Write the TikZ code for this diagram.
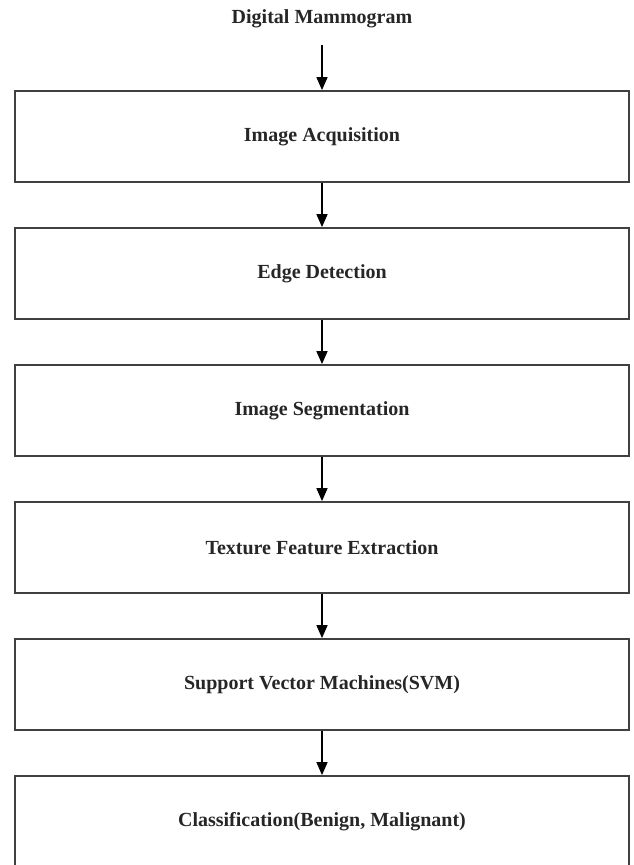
\documentclass[tikz,border=0pt]{standalone}
\usepackage{fontspec}
\setmainfont{Liberation Serif}
\usetikzlibrary{positioning,arrows.meta}
\tikzstyle{stage} = [draw=black!75, line width=1.8pt, rectangle, minimum width=614pt, minimum height=91pt, text centered, inner sep=0pt, text=black!85, font=\fontsize{20}{24}\bfseries\selectfont]
\tikzstyle{source} = [rectangle, minimum height=52pt, inner sep=0pt, text=black!85, font=\fontsize{20}{24}\bfseries\selectfont]
\tikzstyle{line} = [draw, line width=1.5pt, -{Triangle[length=13pt, width=11pt]}]

\begin{document}
\begin{tikzpicture}[node distance = 137pt, auto]
    \useasboundingbox (-322pt,19pt) rectangle (311pt,-846pt);

    % Place nodes
    \node [source] (mammogram) {Digital Mammogram};
    \node [stage, below of=mammogram, node distance=117.5pt] (acquisition) {Image Acquisition};
    \node [stage, below of=acquisition] (edges) {Edge Detection};
    \node [stage, below of=edges] (segmentation) {Image Segmentation};
    \node [stage, below of=segmentation] (texture) {Texture Feature Extraction};
    \node [stage, below of=texture] (svm) {Support Vector Machines(SVM)};
    \node [stage, below of=svm] (classification) {Classification(Benign, Malignant)};

    % Draw edges
    \path [line] (mammogram) -- (acquisition);
    \path [line] (acquisition) -- (edges);
    \path [line] (edges) -- (segmentation);
    \path [line] (segmentation) -- (texture);
    \path [line] (texture) -- (svm);
    \path [line] (svm) -- (classification);
  \end{tikzpicture}
\end{document}
